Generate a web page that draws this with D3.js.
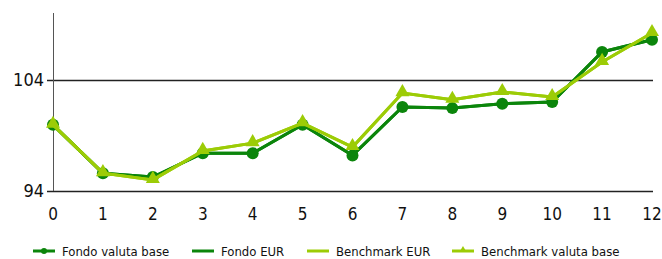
<!DOCTYPE html>
<html>
<head>
<meta charset="utf-8">
<script src="https://cdn.jsdelivr.net/npm/d3@7"></script>
<style>
  body { margin: 0; background: #fff; }
  svg text { font-family: "Liberation Sans Narrow", "DejaVu Sans Condensed", sans-serif; fill: #111; }
</style>
</head>
<body>
<svg id="chart" width="662" height="259"></svg>
<script>
// data
var periods = [0, 1, 2, 3, 4, 5, 6, 7, 8, 9, 10, 11, 12];
var fondoValutaBase = [99.95, 95.6, 95.25, 97.4, 97.4, 99.95, 97.2, 101.55, 101.45, 101.85, 102.0, 106.5, 107.6];
var fondoEur = [99.95, 95.6, 95.25, 97.4, 97.4, 99.95, 97.2, 101.55, 101.45, 101.85, 102.0, 106.5, 107.6];
var benchmarkEur = [99.95, 95.6, 95.0, 97.6, 98.3, 100.1, 97.95, 102.8, 102.2, 102.9, 102.45, 105.6, 108.2];
var benchmarkValutaBase = [99.95, 95.6, 95.0, 97.6, 98.3, 100.1, 97.95, 102.8, 102.2, 102.9, 102.45, 105.6, 108.2];
var yTicks = [94, 104];
var seriesNames = ["Fondo valuta base", "Fondo EUR", "Benchmark EUR", "Benchmark valuta base"];

var dark = "#0b850b", light = "#9ccc06";

var series = [
    { name: seriesNames[0], values: fondoValutaBase, color: dark, marker: "circle" },
    { name: seriesNames[1], values: fondoEur, color: dark, marker: null },
    { name: seriesNames[2], values: benchmarkEur, color: light, marker: null },
    { name: seriesNames[3], values: benchmarkValutaBase, color: light, marker: "triangle" }
];

var svg = d3.select("#chart");

var x = d3.scaleLinear().domain([0, 12]).range([53, 652]);
var y = d3.scaleLinear().domain([94, 110]).range([191, 13]);

// horizontal grid lines with small left ticks
svg.selectAll("line.grid")
    .data(yTicks)
    .enter()
    .append("line")
    .attr("class", "grid")
    .attr("x1", 47)
    .attr("x2", 653)
    .attr("y1", function(d) { return Math.round(y(d)) + 0.5; })
    .attr("y2", function(d) { return Math.round(y(d)) + 0.5; })
    .style("stroke", "#222")
    .style("stroke-width", 1.6);

// vertical axis line
svg.append("line")
    .attr("x1", x(0) + 0.5).attr("x2", x(0) + 0.5)
    .attr("y1", y(110)).attr("y2", y(94))
    .style("stroke", "#555")
    .style("stroke-width", 1);

// y labels
svg.selectAll("text.ylab")
    .data(yTicks)
    .enter()
    .append("text")
    .attr("class", "ylab")
    .attr("x", 44)
    .attr("y", function(d) { return y(d); })
    .attr("dy", "0.35em")
    .attr("text-anchor", "end")
    .style("font-size", "18px")
    .text(function(d) { return d; });

// x labels
svg.selectAll("text.xlab")
    .data(periods)
    .enter()
    .append("text")
    .attr("class", "xlab")
    .attr("x", function(d) { return x(d); })
    .attr("y", 214)
    .attr("dy", "0.35em")
    .attr("text-anchor", "middle")
    .style("font-size", "17px")
    .text(function(d) { return d; });

var line = d3.line()
    .x(function(d, i) { return x(periods[i]); })
    .y(function(d) { return y(d); });

var tri = d3.symbol().type(d3.symbolTriangle).size(85);

series.forEach(function(s) {
    var g = svg.append("g");
    g.append("path")
        .datum(s.values)
        .attr("d", line)
        .style("fill", "none")
        .style("stroke", s.color)
        .style("stroke-width", 3);
    if (s.marker === "circle") {
        g.selectAll("circle")
            .data(s.values)
            .enter()
            .append("circle")
            .attr("cx", function(d, i) { return x(periods[i]); })
            .attr("cy", function(d) { return y(d); })
            .attr("r", 6)
            .style("fill", s.color);
    } else if (s.marker === "triangle") {
        g.selectAll("path.tri")
            .data(s.values)
            .enter()
            .append("path")
            .attr("class", "tri")
            .attr("d", tri)
            .attr("transform", function(d, i) { return "translate(" + x(periods[i]) + "," + (y(d) - 1) + ")"; })
            .style("fill", s.color);
    }
});

// legend
var legX = [33, 192, 307, 452];
var legY = 251;
var leg = svg.selectAll("g.leg")
    .data(series)
    .enter()
    .append("g")
    .attr("class", "leg")
    .attr("transform", function(d, i) { return "translate(" + legX[i] + "," + legY + ")"; });

leg.append("line")
    .attr("x1", 0).attr("x2", 22)
    .attr("y1", 0).attr("y2", 0)
    .style("stroke", function(d) { return d.color; })
    .style("stroke-width", 3);

leg.filter(function(d) { return d.marker === "circle"; })
    .append("circle")
    .attr("cx", 11).attr("cy", 0).attr("r", 3)
    .style("fill", function(d) { return d.color; });

leg.filter(function(d) { return d.marker === "triangle"; })
    .append("path")
    .attr("d", d3.symbol().type(d3.symbolTriangle).size(22))
    .attr("transform", "translate(11,-1)")
    .style("fill", function(d) { return d.color; });

leg.append("text")
    .attr("x", 29)
    .attr("y", 0)
    .attr("dy", "0.35em")
    .style("font-size", "13px")
    .text(function(d) { return d.name; });
</script>
</body>
</html>
